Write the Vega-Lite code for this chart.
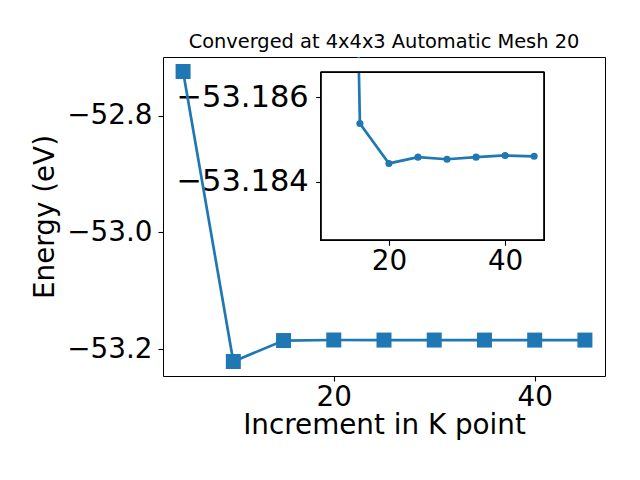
{
  "$schema": "https://vega.github.io/schema/vega-lite/v6.json",
  "width": 442,
  "height": 319,
  "autosize": "none",
  "padding": {"left": 163, "top": 57, "right": 35, "bottom": 104},
  "background": "white",
  "title": {
    "text": "Converged at 4x4x3 Automatic Mesh 20",
    "font": "DejaVu Sans",
    "fontSize": 19.4,
    "fontWeight": "normal",
    "color": "black",
    "anchor": "middle",
    "frame": "group",
    "baseline": "alphabetic",
    "offset": -10.5
  },
  "data": {
    "values": [
      {"k": 5, "E": -52.724},
      {"k": 10, "E": -53.2213},
      {"k": 15, "E": -53.18538},
      {"k": 20, "E": -53.18443},
      {"k": 25, "E": -53.18458},
      {"k": 30, "E": -53.18453},
      {"k": 35, "E": -53.18458},
      {"k": 40, "E": -53.18462},
      {"k": 45, "E": -53.1846}
    ]
  },
  "layer": [
    {
      "mark": {
        "type": "line",
        "color": "#1f77b4",
        "strokeWidth": 2.7,
        "point": {"shape": "square", "size": 225, "filled": true, "color": "#1f77b4", "opacity": 1}
      },
      "encoding": {
        "x": {
          "field": "k",
          "type": "quantitative",
          "scale": {"domain": [3, 47], "nice": false, "zero": false},
          "axis": {"orient": "bottom", "values": [20, 40], "title": "Increment in K point", "titlePadding": 1}
        },
        "y": {
          "field": "E",
          "type": "quantitative",
          "scale": {"domain": [-53.2462, -52.6991], "nice": false, "zero": false},
          "axis": {"orient": "left", "values": [-52.8, -53.0, -53.2], "format": ".1f", "title": "Energy (eV)", "titlePadding": 7, "labelPadding": 6}
        }
      }
    },
    {
      "transform": [{"filter": "datum.k >= 10"}],
      "encoding": {
        "x": {
          "field": "k",
          "type": "quantitative",
          "scale": {"domain": [8.25, 46.75], "range": [157.7, 381.3], "nice": false, "zero": false},
          "axis": {"orient": "bottom", "offset": -135.7, "values": [20, 40], "title": null}
        },
        "y": {
          "field": "E",
          "type": "quantitative",
          "scale": {"domain": [-53.1866, -53.1826], "range": [15.3, 183.3], "nice": false, "zero": false},
          "axis": {"orient": "left", "offset": -157.7, "values": [-53.186, -53.184], "format": ".3f", "title": null, "labelPadding": 7.5, "labelFontSize": 30.5}
        }
      },
      "layer": [
        {
          "mark": {
            "type": "line",
            "clip": true,
            "color": "#1f77b4",
            "strokeWidth": 2.7,
            "point": {"shape": "circle", "size": 50, "filled": true, "color": "#1f77b4", "opacity": 1}
          }
        },
        {
          "mark": {"type": "rect", "fill": "white", "strokeWidth": 0, "clip": true},
          "encoding": {
            "x": {"datum": 8.25},
            "x2": {"datum": 46.75},
            "y": {"datum": -53.18692},
            "y2": {"datum": -53.1866}
          }
        },
        {
          "mark": {"type": "rect", "fill": null, "fillOpacity": 0, "stroke": "black", "strokeWidth": 1},
          "encoding": {
            "x": {"datum": 8.25},
            "x2": {"datum": 46.75},
            "y": {"datum": -53.1866},
            "y2": {"datum": -53.1826}
          }
        }
      ]
    }
  ],
  "resolve": {"scale": {"x": "independent", "y": "independent"}},
  "config": {
    "view": {"stroke": "black", "strokeWidth": 1},
    "axis": {
      "labelFont": "DejaVu Sans",
      "labelFontSize": 27.8,
      "labelColor": "black",
      "titleFont": "DejaVu Sans",
      "titleFontSize": 27.8,
      "titleFontWeight": "normal",
      "titleColor": "black",
      "tickColor": "black",
      "tickSize": 5,
      "tickWidth": 1.1,
      "labelPadding": 2,
      "domain": false,
      "grid": false,
      "labelFlush": false,
      "labelOverlap": false
    }
  }
}
